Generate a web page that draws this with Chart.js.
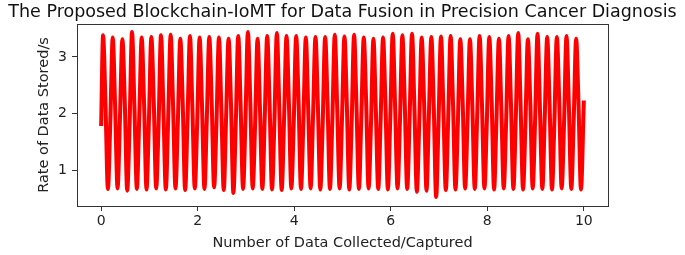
<!DOCTYPE html>
<html>
<head>
<meta charset="utf-8">
<script src="https://cdn.jsdelivr.net/npm/chart.js@4.4.1/dist/chart.umd.min.js"></script>
<style>
  html, body { margin: 0; padding: 0; background: #fff; }
  #wrap { width: 685px; height: 255px; }
</style>
</head>
<body>
<div id="wrap"><canvas id="rate-chart" width="685" height="255"></canvas></div>
<script>
// values, one entry per cycle (period ~0.2)
const chartTitle = 'The Proposed Blockchain-IoMT for Data Fusion in Precision Cancer Diagnosis';
const xTitle = 'Number of Data Collected/Captured';
const yTitle = 'Rate of Data Stored/s';
const xTicks = [0, 2, 4, 6, 8, 10];
const yTicks = [1, 2, 3];

const startPoint = [0, 1.78];
const endPoint = [10, 2.23];
const firstPeak = 0.04;
const period = 0.2;

const peaks = [3.38,3.34,3.31,3.44,3.34,3.35,3.38,3.39,3.32,3.37,
  3.34,3.35,3.34,3.32,3.37,3.44,3.32,3.37,3.42,3.37,
  3.37,3.34,3.35,3.35,3.39,3.36,3.39,3.34,3.32,3.34,
  3.41,3.38,3.41,3.34,3.35,3.36,3.37,3.31,3.31,3.37,
  3.35,3.32,3.37,3.42,3.31,3.41,3.35,3.35,3.37,3.32];

const fallMid = [2.18,2.12,2.20,2.10,2.16,2.22,2.08,2.15,2.19,2.11,
  2.14,2.21,2.09,2.17,2.13,2.20,2.10,2.16,2.12,2.18,
  2.22,2.07,2.15,2.19,2.11,2.16,2.13,2.21,2.09,2.17,
  2.12,2.18,2.10,2.20,2.14,2.08,2.16,2.19,2.12,2.15,
  2.21,2.10,2.17,2.13,2.19,2.09,2.16,2.20,2.12,2.15];

const troughs = [0.67,0.68,0.64,0.67,0.66,0.68,0.66,0.68,0.65,0.68,
  0.67,0.70,0.65,0.60,0.67,0.68,0.67,0.66,0.65,0.68,
  0.67,0.68,0.66,0.67,0.68,0.66,0.67,0.68,0.67,0.66,
  0.68,0.67,0.62,0.64,0.53,0.65,0.66,0.68,0.67,0.68,
  0.66,0.68,0.67,0.66,0.68,0.67,0.66,0.68,0.67,0.66];

const riseMid = [1.86,1.92,1.83,1.95,1.88,1.81,1.94,1.87,1.90,1.84,
  1.93,1.86,1.97,1.85,1.89,1.82,1.95,1.88,1.91,1.84,
  1.87,1.96,1.83,1.90,1.92,1.85,1.94,1.81,1.89,1.93,
  1.86,1.90,1.84,1.97,1.88,1.92,1.83,1.87,1.95,1.85,
  1.91,1.86,1.93,1.82,1.89,1.94,1.87,1.84,1.90];

// build the point list for chart.js
const points = [{x: startPoint[0], y: startPoint[1]}];
peaks.forEach((p, k) => {
  const t = firstPeak + k * period;
  points.push({x: t, y: p});
  points.push({x: t + period / 4, y: fallMid[k]});
  points.push({x: t + period / 2, y: troughs[k]});
  if (k < riseMid.length) points.push({x: t + 3 * period / 4, y: riseMid[k]});
});
points.push({x: endPoint[0], y: endPoint[1]});

const font = '"DejaVu Sans", sans-serif';

// title across the whole canvas + the four spines
const framePlugin = {
  id: 'frame',
  afterDraw(chart) {
    const {ctx, chartArea: a} = chart;
    ctx.save();
    ctx.strokeStyle = '#333';
    ctx.lineWidth = 1;
    ctx.strokeRect(Math.round(a.left) + 0.5, Math.round(a.top) + 0.5,
      Math.round(a.right - a.left), Math.round(a.bottom - a.top));
    ctx.fillStyle = '#111';
    ctx.font = '17.5px ' + font;
    ctx.textAlign = 'center';
    ctx.textBaseline = 'alphabetic';
    ctx.fillText(chartTitle, chart.width / 2, 17);
    ctx.restore();
  }
};

new Chart(document.getElementById('rate-chart'), {
  type: 'line',
  data: {
    datasets: [{
      data: points,
      borderColor: '#ff0000',
      borderWidth: 4,
      pointRadius: 0,
      cubicInterpolationMode: 'monotone',
      fill: false
    }]
  },
  options: {
    responsive: false,
    animation: false,
    layout: { padding: { top: 24, right: 77, left: 0, bottom: 0 } },
    plugins: { legend: { display: false }, tooltip: { enabled: false } },
    scales: {
      x: {
        type: 'linear',
        min: -0.5,
        max: 10.5,
        afterFit: s => { s.height = 49; },
        afterBuildTicks: s => { s.ticks = xTicks.map(v => ({value: v})); },
        ticks: { font: { family: font, size: 14 }, color: '#222', padding: 2, maxRotation: 0 },
        grid: { drawOnChartArea: false, drawTicks: true, tickLength: 5, tickColor: '#333', color: '#333' },
        border: { display: false },
        title: { display: true, text: xTitle, font: { family: font, size: 14.5 }, color: '#222', padding: { top: 0, bottom: 3 } }
      },
      y: {
        min: 0.37,
        max: 3.58,
        afterFit: s => { s.width = 77; },
        afterBuildTicks: s => { s.ticks = yTicks.map(v => ({value: v})); },
        ticks: { font: { family: font, size: 14 }, color: '#222', padding: 5 },
        grid: { drawOnChartArea: false, drawTicks: true, tickLength: 5, tickColor: '#333', color: '#333' },
        border: { display: false },
        title: { display: true, text: yTitle, font: { family: font, size: 14.5 }, color: '#222', padding: { top: 36, bottom: 0 } }
      }
    }
  },
  plugins: [framePlugin]
});
</script>
</body>
</html>
